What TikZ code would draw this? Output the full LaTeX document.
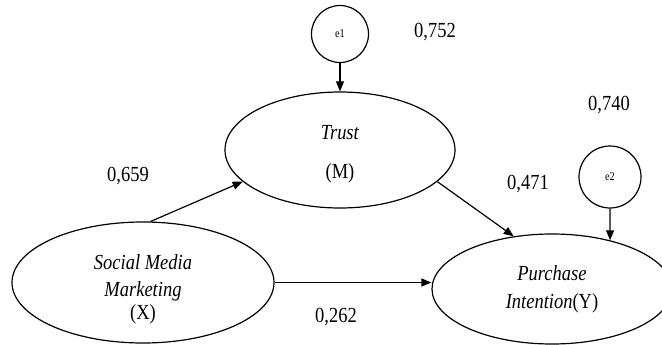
\documentclass[tikz,border=0pt]{standalone}
\usepackage{fontspec}
\setmainfont{Liberation Serif}[FakeStretch=0.86]
\usetikzlibrary{shapes.geometric,arrows.meta}
\begin{document}
\begin{tikzpicture}[x=1pt, y=-1pt, line width=1.2pt,
  latent/.style={ellipse, draw, inner sep=0pt, align=center, font=\fontsize{21.5}{25}\selectfont},
  errterm/.style={circle, draw, inner sep=0pt, font=\fontsize{12}{14}\selectfont},
  coef/.style={draw=none, font=\fontsize{21.5}{25}\selectfont},
  >={Triangle[length=10pt,width=8pt]}]
\useasboundingbox (0,0) rectangle (662,345);
%%%%%%%%%%%%%%%%%%%%%%%%%%%%%%% Latent variables
\node[latent, minimum width=230pt, minimum height=116pt](trust) at (340,150){\rule{0pt}{22pt}\textit{Trust}\\[14pt](M)};
\node[latent, minimum width=262pt, minimum height=121pt](smm) at (143,282.5){\rule{0pt}{28pt}\textit{Social Media}\\[2pt]\textit{Marketing}\\[-2pt](X)};
\node[latent, minimum width=240pt, minimum height=110pt](pi) at (552,289){\textit{Purchase}\\[3pt]\textit{Intention}(Y)};
%%%%%%%%%%%%%%%%%%%%%%%%%%%%%%% Error terms
\node[errterm, minimum size=57pt](e1) at (340,34){e1};
\node[errterm, minimum size=62pt](e2) at (610,177){e2};
\draw[->] (e1.south) -- (trust.north);
\draw[->] (e2.south) -- (pi.40);
%%%%%%%%%%%%%%%%%%%%%%%%%%%%%%% Paths
\draw[->] (smm.83) -- (trust.198);
\draw[->] (trust.-18) -- (pi.126);
\draw[->] (smm.east) -- (smm.east -| pi.west);
%%%%%%%%%%%%%%%%%%%%%%%%%%%%%%% Coefficients
\node[coef](cM) at (128,176){0,659};
\node[coef](cY) at (528,184){0,471};
\node[coef](cX) at (336,317){0,262};
\node[coef](rM) at (435,32){0,752};
\node[coef](rY) at (609,105){0,740};
\end{tikzpicture}
\end{document}
